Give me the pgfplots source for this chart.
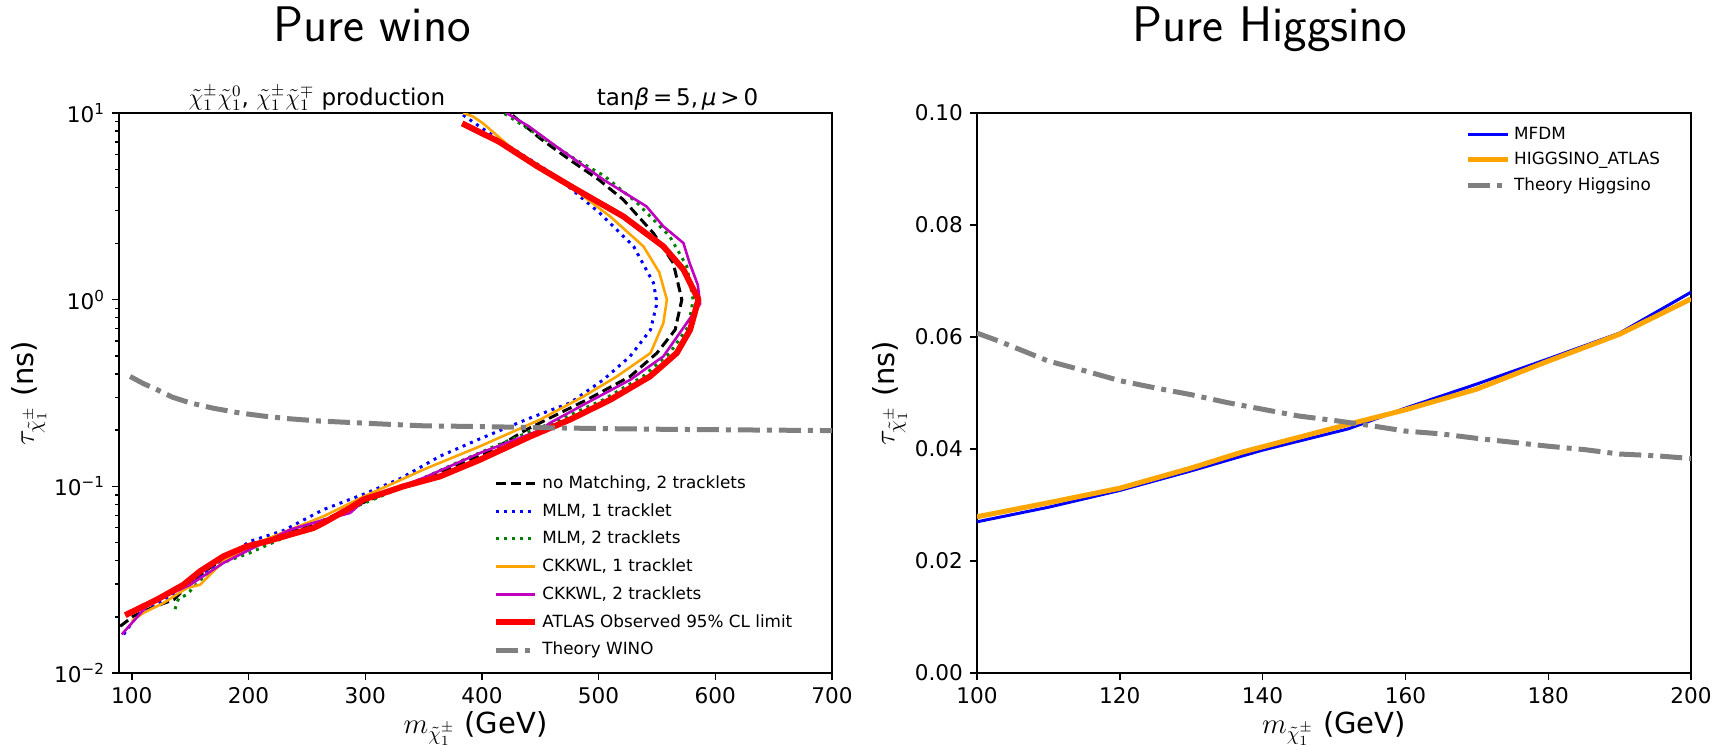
\documentclass[border=0pt]{standalone}
\usepackage{fontspec}
\setmainfont{DejaVu Sans}
\usepackage{pgfplots}
\pgfplotsset{compat=1.18}
\definecolor{mplorange}{rgb}{1,0.647,0}
\definecolor{mplgreen}{rgb}{0,0.5,0}
\definecolor{mplmag}{rgb}{0.75,0,0.75}
\definecolor{mplgray}{rgb}{0.5,0.5,0.5}
\pgfplotsset{
  common/.style={
    scale only axis,
    clip mode=individual,
    tick align=outside, tick pos=left,
    major tick length=3.5pt, minor tick length=2pt,
    axis line style={line width=0.7pt},
    every tick/.style={black, line width=0.7pt},
    ticklabel style={font=\fontsize{10.8}{12}\selectfont},
    /pgf/number format/assume math mode=true,
    label style={font=\fontsize{14.5}{16}\selectfont},
    xlabel style={at={(rel axis cs:0.5,0)}, anchor=base, yshift=-30pt},
    ylabel style={yshift=-3pt},
    legend cell align=left,
    legend image code/.code={\draw[##1] (0cm,0cm) -- (0.7cm,0cm);},
  }
}
\begin{document}
\begin{tikzpicture}
\useasboundingbox (0,0) rectangle (863pt,372.5pt);
\node[anchor=base, font=\sffamily\fontsize{25}{29}\selectfont] at (186pt,351.5pt) {Pure wino};
\node[anchor=base, font=\sffamily\fontsize{25}{29}\selectfont] at (635pt,351.5pt) {Pure Higgsino};

\begin{axis}[common,
  at={(59.5pt,36pt)}, anchor=south west, width=356.5pt, height=280pt,
  ymode=log, xmin=89, xmax=700, ymin=0.01, ymax=10,
  xtick={100,200,...,700},
  ytick={0.01,0.1,1,10},
  yticklabels={10\textsuperscript{−2},10\textsuperscript{−1},10\textsuperscript{0},10\textsuperscript{1}},
  xlabel={$m_{\tilde{\chi}^{\pm}_{1}}$ (GeV)},
  ylabel={$\tau_{\tilde{\chi}^{\pm}_{1}}$ (ns)},
  legend style={draw=none, fill=none, font=\fontsize{8.4}{10}\selectfont,
    at={(0.515,0.012)}, anchor=south west, row sep=2pt},
]
\addplot[black, line width=1.5pt, dash pattern=on 5pt off 2.5pt] coordinates {
(90,0.0178) (101,0.0201) (118,0.0225) (136,0.0247) (150,0.0303) (165,0.036) (178,0.0405) (200,0.047) (230,0.055) (260,0.064) (290,0.078) (320,0.093) (350,0.11) (380,0.13) (410,0.158) (438,0.201) (461,0.237) (490,0.291) (527,0.388) (550,0.518) (565.6,0.69) (571.3,1.0) (564,1.57) (547,2.27) (521,3.44) (500,4.4) (475.6,5.6) (450,7.3) (424,10)
};
\addlegendentry{no Matching, 2 tracklets}
\addplot[blue, line width=1.5pt, dash pattern=on 1.5pt off 2.5pt] coordinates {
(93,0.0161) (104,0.0201) (120,0.023) (144,0.028) (160,0.034) (178.5,0.0405) (201,0.0507) (230,0.058) (264,0.075) (301,0.092) (330,0.11) (364,0.145) (398.5,0.18) (441,0.232) (475.6,0.28) (504,0.372) (527,0.497) (544.5,0.69) (550,0.96) (547,1.23) (530,1.93) (501,2.91) (464,4.57) (424,6.6) (400,8.3) (381.5,10)
};
\addlegendentry{MLM, 1 tracklet}
\addplot[mplgreen, line width=1.5pt, dash pattern=on 1.5pt off 2.5pt] coordinates {
(137,0.022) (140,0.025) (147,0.0263) (160,0.032) (178,0.039) (201,0.044) (230,0.053) (260,0.064) (290,0.077) (320,0.092) (350,0.111) (380,0.135) (410,0.163) (440,0.195) (467,0.228) (504,0.291) (538,0.388) (561,0.518) (577,0.72) (581,1.0) (575.6,1.51) (561,2.18) (533,3.3) (505,4.6) (481,5.6) (450,7.5) (418.5,10)
};
\addlegendentry{MLM, 2 tracklets}
\addplot[mplorange, line width=1.3pt] coordinates {
(100,0.019) (110,0.021) (127,0.0237) (147,0.0285) (158.5,0.0297) (178.5,0.0397) (204,0.0488) (235.6,0.0586) (264,0.069) (298.5,0.088) (350,0.123) (398.5,0.164) (450,0.228) (487,0.303) (515.6,0.388) (544.5,0.518) (555.5,0.75) (558.5,1.0) (552,1.4) (538.4,1.93) (510,2.79) (475.6,4.05) (424,6.6) (401,8.8) (392,9.6) (384,10)
};
\addlegendentry{CKKWL, 1 tracklet}
\addplot[mplmag, line width=1.3pt] coordinates {
(91.4,0.0161) (112.8,0.0228) (130,0.026) (150,0.0297) (178.5,0.0389) (201,0.0458) (235.6,0.0586) (264,0.066) (287,0.072) (300,0.085) (350,0.111) (398.5,0.151) (450,0.2) (458.5,0.219) (490,0.28) (527,0.372) (555.5,0.497) (587,0.95) (585,1.2) (578,1.57) (572.7,2.01) (555.5,2.47) (541,3.16) (504,4.4) (464,6.6) (440,8.5) (421,10)
};
\addlegendentry{CKKWL, 2 tracklets}
\addplot[red, line width=3pt, line join=round] coordinates {
(94.3,0.0204) (104.3,0.0219) (121.4,0.0247) (144.2,0.0297) (158.5,0.0351) (178.5,0.0422) (198.5,0.0477) (215.7,0.0507) (235.6,0.0551) (255.6,0.0598) (264.2,0.0637) (287,0.0766) (298.5,0.085) (315.6,0.092) (332.7,0.1) (364,0.113) (398.5,0.139) (441.3,0.185) (475.6,0.228) (510,0.291) (544,0.388) (567,0.518) (578.4,0.69) (585.5,1.0) (572.7,1.45) (555.5,1.93) (521.3,2.79) (481.3,3.88) (447,5.2) (415,7.0) (383,8.8)
};
\addlegendentry{ATLAS Observed 95\% CL limit}
\addplot[mplgray, line width=2.5pt, dash pattern=on 11pt off 3.5pt on 2.5pt off 3.5pt] coordinates {
(98.5,0.388) (110,0.355) (121.4,0.33) (135,0.3) (150,0.28) (170,0.262) (192.8,0.247) (215,0.237) (235.6,0.23) (260,0.224) (292.8,0.219) (320,0.215) (349.9,0.211) (400,0.209) (435.6,0.207) (500,0.204) (560,0.202) (604,0.201) (650,0.2) (700,0.199)
};
\addlegendentry{Theory WINO}
\node[anchor=base west, inner sep=0pt, yshift=4pt, font=\fontsize{11.5}{13}\selectfont] at (rel axis cs:0.097,1) {$\tilde{\chi}^{\pm}_{1}\tilde{\chi}^{0}_{1}$, $\tilde{\chi}^{\pm}_{1}\tilde{\chi}^{\mp}_{1}$ production};
\node[anchor=base east, inner sep=0pt, yshift=4pt, font=\fontsize{11.5}{13}\selectfont] at (rel axis cs:0.897,1) {tan\textit{β}\,=\,5,\,\textit{μ}\,>\,0};
\end{axis}

\begin{axis}[common,
  at={(488.5pt,36pt)}, anchor=south west, width=357pt, height=280pt,
  xmin=100, xmax=200, ymin=0, ymax=0.1,
  xtick={100,120,...,200},
  ytick={0,0.02,0.04,0.06,0.08,0.1},
  yticklabel style={/pgf/number format/.cd, fixed, fixed zerofill, precision=2},
  scaled y ticks=false,
  xlabel={$m_{\tilde{\chi}^{\pm}_{1}}$ (GeV)},
  ylabel={$\tau_{\tilde{\chi}^{\pm}_{1}}$ (ns)},
  legend style={draw=none, fill=none, font=\fontsize{8.4}{10}\selectfont,
    at={(0.675,0.99)}, anchor=north west, row sep=1pt},
]
\addplot[blue, line width=1.5pt] coordinates {
(100,0.0270) (110,0.0296) (120,0.0326) (130,0.0361) (140,0.0398) (152,0.0436) (160,0.0473) (170,0.0516) (180,0.0561) (190,0.0607) (200,0.0680)
};
\addlegendentry{MFDM}
\addplot[mplorange, line width=2.5pt] coordinates {
(100,0.0279) (110,0.0304) (120,0.0330) (130,0.0366) (137,0.0394) (140,0.0404) (152,0.0444) (160,0.0470) (170,0.0507) (180,0.0557) (190,0.0605) (200,0.0668)
};
\addlegendentry{HIGGSINO\_ATLAS}
\addplot[mplgray, line width=2.5pt, dash pattern=on 11pt off 3.5pt on 2.5pt off 3.5pt] coordinates {
(100,0.0607) (103,0.0593) (110,0.0557) (115,0.0540) (120,0.0522) (125,0.0509) (130,0.0497) (135,0.0483) (140,0.0471) (145,0.0459) (150,0.0451) (155,0.0442) (160,0.0432) (165,0.0427) (170,0.0419) (175,0.0412) (180,0.0405) (185,0.0399) (190,0.0391) (195,0.0388) (200,0.0383)
};
\addlegendentry{Theory Higgsino}
\end{axis}
\end{tikzpicture}
\end{document}
